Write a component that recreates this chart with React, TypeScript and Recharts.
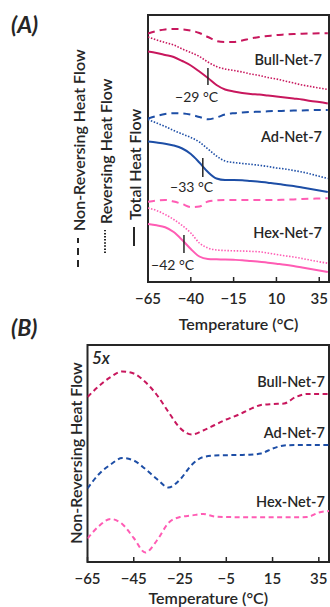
import { LineChart, Line, XAxis, YAxis, ReferenceArea, ReferenceLine, ReferenceDot } from "recharts";

// Two stacked DSC panels: (A) total / reversing / non-reversing heat flow,
// (B) the non-reversing signal magnified 5x. Values are arbitrary heat-flow
// units (offset per sample).
const FONT = "Lato, 'Open Sans', sans-serif";
const INK = "#262626";
const BULL = "#C8175D";
const AD = "#1D4EA6";
const HEX = "#FF5CB4";

const temps = [-65, -60, -55, -50, -45, -40, -35, -30, -25, -20, -15, -10, -5, 0, 5, 10, 15, 20, 25, 30, 35, 40];
const ticksA = [-65, -40, -15, 10, 35];
const ticksB = [-65, -45, -25, -5, 15, 35];

// panel A
const bullNonRevA = [248.5, 251, 252.5, 253, 252.7, 251.5, 249, 245, 241, 240, 240, 241.5, 243.5, 245, 246, 247, 247.5, 248, 248.3, 248.5, 248.7, 248.7];
const bullRevA = [245, 242, 239.5, 237, 233, 229.5, 225.5, 220, 215.5, 213, 211.5, 210, 208, 206.5, 204.5, 203, 201, 199, 197, 195.5, 194, 192.5];
const bullTotalA = [230.5, 229, 227, 225, 221, 216.5, 210.5, 204, 197, 192.5, 190.5, 189, 188, 187.5, 186.5, 185.5, 184.5, 183.5, 182.5, 181, 180, 178.5];
const adNonRevA = [163.5, 166, 168, 168.7, 168.5, 167.3, 165, 162.7, 164.5, 167.5, 168.8, 169.5, 170, 170.3, 170.7, 171, 171.2, 171.4, 171.6, 171.8, 172, 172];
const adRevA = [162.5, 159, 155.5, 151.5, 148, 144.5, 140, 133, 126, 121, 119.5, 118.5, 117.7, 116.7, 115.5, 114, 113, 111.5, 110, 108, 105.7, 103.5];
const adTotalA = [140.5, 139.5, 138.3, 136.5, 133.5, 128, 119.5, 110, 103.5, 102, 102, 101.8, 101, 100.3, 99.3, 98.3, 97, 96, 94.5, 93, 91.5, 90];
const hexNonRevA = [80.3, 81.5, 82, 80.5, 78, 75, 75.5, 80.5, 81.7, 82, 82, 82, 82, 82, 82, 82, 82.3, 82.6, 83, 83.3, 83.5, 83.7];
const hexRevA = [74, 71.5, 67.5, 62.5, 56.5, 49, 39, 34, 32, 31.5, 31.2, 31, 30.6, 30.2, 29, 27.5, 26.2, 25, 23.5, 21.8, 20.2, 18.8];
const hexTotalA = [58, 56.7, 54.8, 50, 42, 33, 25.5, 23, 22.7, 22.5, 22.2, 21.8, 21, 20.3, 19.3, 18.3, 17.3, 16, 14.5, 13, 11.5, 10];

// panel B (5x non-reversing)
const bullNonRevB = [165, 176, 185, 190.5, 188.5, 180, 167, 150, 134, 127.5, 131.5, 137, 142.5, 147, 152.5, 157, 158, 158.5, 165, 168, 168, 168];
const adNonRevB = [73.5, 88, 97.5, 104, 101.5, 93, 83, 74.5, 82.5, 97, 105, 106.5, 106.8, 107, 107.3, 108.5, 113.5, 116.5, 117, 117, 117, 117];
const hexNonRevB = [23.5, 36, 43, 38, 24, 9.5, 21.5, 39, 45, 46.5, 48, 45.5, 45, 44.8, 44.7, 44.7, 44.7, 44.7, 44.7, 45, 49.5, 51];

const rowsA = temps.map((t, i) => ({
  t,
  bullNR: bullNonRevA[i], bullR: bullRevA[i], bullT: bullTotalA[i],
  adNR: adNonRevA[i], adR: adRevA[i], adT: adTotalA[i],
  hexNR: hexNonRevA[i], hexR: hexRevA[i], hexT: hexTotalA[i],
}));
const rowsB = temps.map((t, i) => ({ t, bull: bullNonRevB[i], ad: adNonRevB[i], hex: hexNonRevB[i] }));

const fmt = (v: number) => String(v).replace("-", "\u2212");

const tickStyle = { fill: INK, fontSize: 15, fontFamily: FONT, fontWeight: 600 };
const nameStyle = { fill: INK, fontSize: 14.5, fontFamily: FONT, fontWeight: 600 };

function XTitle({ viewBox, dy }: any) {
  const { x, y, width } = viewBox;
  return (
    <text x={x + width / 2} y={y + dy} textAnchor="middle" dominantBaseline="central"
      fill={INK} fontSize={16} fontFamily={FONT} fontWeight={600}>
      Temperature (°C)
    </text>
  );
}

// rotated y titles with their line-style keys
function YTitlesA() {
  const rows = [
    { x: 78, from: 267, to: 238, dash: "7 5", w: 2, start: 231, label: "Non-Reversing Heat Flow" },
    { x: 105, from: 253, to: 230, dash: "1.5 1.6", w: 2, start: 224, label: "Reversing Heat Flow" },
    { x: 134, from: 246, to: 227, dash: undefined, w: 2, start: 220, label: "Total Heat Flow" },
  ];
  return (
    <g>
      {rows.map((r) => (
        <g key={r.label}>
          <line x1={r.x} x2={r.x} y1={r.from} y2={r.to} stroke={INK} strokeWidth={r.w} strokeDasharray={r.dash} />
          <text x={r.x} y={r.start} transform={`rotate(-90 ${r.x} ${r.start})`} dominantBaseline="central"
            fill={INK} fontSize={16} fontFamily={FONT} fontWeight={600}>
            {r.label}
          </text>
        </g>
      ))}
    </g>
  );
}

function YTitleB() {
  return (
    <text x={75} y={153} transform="rotate(-90 75 153)" textAnchor="middle" dominantBaseline="central"
      fill={INK} fontSize={16} fontFamily={FONT} fontWeight={600}>
      Non-Reversing Heat Flow
    </text>
  );
}

function PanelA() {
  const xMax = 40.7;
  const yMax = 267;
  return (
    <LineChart width={330} height={335} data={rowsA} margin={{ top: 15, right: 1, left: 0, bottom: 0 }}>
      <XAxis dataKey="t" type="number" domain={[-65, xMax]} ticks={ticksA} allowDataOverflow
        axisLine={false} tickLine={{ stroke: INK, strokeWidth: 1.5 }} tickSize={-5} tickMargin={16}
        tick={tickStyle} tickFormatter={fmt} height={53} label={<XTitle dy={41} />} />
      <YAxis type="number" domain={[0, yMax]} allowDataOverflow width={148} tick={false}
        axisLine={false} tickLine={false} label={<YTitlesA />} />
      <ReferenceArea x1={-65} x2={xMax} y1={0} y2={yMax} fill="none" stroke={INK} strokeWidth={2} />
      <Line dataKey="bullNR" type="monotone" stroke={BULL} strokeWidth={2} strokeDasharray="7 5" dot={false} isAnimationActive={false} />
      <Line dataKey="bullR" type="monotone" stroke={BULL} strokeWidth={1.6} strokeDasharray="1.5 1.6" dot={false} isAnimationActive={false} />
      <Line dataKey="bullT" type="monotone" stroke={BULL} strokeWidth={2} dot={false} isAnimationActive={false} />
      <Line dataKey="adNR" type="monotone" stroke={AD} strokeWidth={2} strokeDasharray="7 5" dot={false} isAnimationActive={false} />
      <Line dataKey="adR" type="monotone" stroke={AD} strokeWidth={1.6} strokeDasharray="1.5 1.6" dot={false} isAnimationActive={false} />
      <Line dataKey="adT" type="monotone" stroke={AD} strokeWidth={2} dot={false} isAnimationActive={false} />
      <Line dataKey="hexNR" type="monotone" stroke={HEX} strokeWidth={2} strokeDasharray="7 5" dot={false} isAnimationActive={false} />
      <Line dataKey="hexR" type="monotone" stroke={HEX} strokeWidth={1.6} strokeDasharray="1.5 1.6" dot={false} isAnimationActive={false} />
      <Line dataKey="hexT" type="monotone" stroke={HEX} strokeWidth={2} dot={false} isAnimationActive={false} />
      <ReferenceLine segment={[{ x: -30, y: 214 }, { x: -30, y: 197 }]} stroke={INK} strokeWidth={1.5} />
      <ReferenceLine segment={[{ x: -33, y: 124 }, { x: -33, y: 105 }]} stroke={INK} strokeWidth={1.5} />
      <ReferenceLine segment={[{ x: -44, y: 47 }, { x: -44, y: 29 }]} stroke={INK} strokeWidth={1.5} />
      <ReferenceDot x={-36.6} y={185} r={0} fill="none" stroke="none"
        label={{ value: "\u221229 °C", position: "center", fill: INK, fontSize: 14, fontFamily: FONT }} />
      <ReferenceDot x={-39.5} y={95} r={0} fill="none" stroke="none"
        label={{ value: "\u221233 °C", position: "center", fill: INK, fontSize: 14, fontFamily: FONT }} />
      <ReferenceDot x={-50.6} y={17} r={0} fill="none" stroke="none"
        label={{ value: "\u221242 °C", position: "center", fill: INK, fontSize: 14, fontFamily: FONT }} />
      <ReferenceDot x={36.6} y={222} r={0} fill="none" stroke="none" label={{ value: "Bull-Net-7", position: "left", offset: 0, ...nameStyle }} />
      <ReferenceDot x={36.6} y={145} r={0} fill="none" stroke="none" label={{ value: "Ad-Net-7", position: "left", offset: 0, ...nameStyle }} />
      <ReferenceDot x={36.6} y={49} r={0} fill="none" stroke="none" label={{ value: "Hex-Net-7", position: "left", offset: 0, ...nameStyle }} />
    </LineChart>
  );
}

function PanelB() {
  const xMax = 39.4;
  const yMax = 217;
  return (
    <LineChart width={330} height={307} data={rowsB} margin={{ top: 45, right: 1, left: 0, bottom: 0 }}>
      <XAxis dataKey="t" type="number" domain={[-65, xMax]} ticks={ticksB} allowDataOverflow
        axisLine={false} tickLine={{ stroke: INK, strokeWidth: 1.5 }} tickSize={-5} tickMargin={16}
        tick={tickStyle} tickFormatter={fmt} height={45} label={<XTitle dy={35.5} />} />
      <YAxis type="number" domain={[0, yMax]} allowDataOverflow width={87.5} tick={false}
        axisLine={false} tickLine={false} label={<YTitleB />} />
      <ReferenceArea x1={-65} x2={xMax} y1={0} y2={yMax} fill="none" stroke={INK} strokeWidth={2} />
      <Line dataKey="bull" type="monotone" stroke={BULL} strokeWidth={2} strokeDasharray="5 3.5" dot={false} isAnimationActive={false} />
      <Line dataKey="ad" type="monotone" stroke={AD} strokeWidth={2} strokeDasharray="5 3.5" dot={false} isAnimationActive={false} />
      <Line dataKey="hex" type="monotone" stroke={HEX} strokeWidth={2} strokeDasharray="5 3.5" dot={false} isAnimationActive={false} />
      <ReferenceDot x={37.6} y={180} r={0} fill="none" stroke="none" label={{ value: "Bull-Net-7", position: "left", offset: 0, ...nameStyle }} />
      <ReferenceDot x={37.6} y={129} r={0} fill="none" stroke="none" label={{ value: "Ad-Net-7", position: "left", offset: 0, ...nameStyle }} />
      <ReferenceDot x={37.6} y={60} r={0} fill="none" stroke="none" label={{ value: "Hex-Net-7", position: "left", offset: 0, ...nameStyle }} />
    </LineChart>
  );
}

export default function App() {
  const tag = { position: "absolute" as const, fontFamily: FONT, fontWeight: 700, fontStyle: "italic", color: INK, lineHeight: 1 };
  return (
    <div style={{ position: "absolute", left: 0, top: 0, width: 330, height: 607, background: "#fff", overflow: "hidden" }}>
      <div style={{ position: "absolute", left: 0, top: 0 }}>
        <PanelA />
      </div>
      <div style={{ position: "absolute", left: 0, top: 300 }}>
        <PanelB />
      </div>
      <div style={{ ...tag, left: 11, top: 13, fontSize: 23 }}>(A)</div>
      <div style={{ ...tag, left: 11, top: 316, fontSize: 23 }}>(B)</div>
      <div style={{ ...tag, left: 92, top: 349, fontSize: 17, fontWeight: 600 }}>5x</div>
    </div>
  );
}
